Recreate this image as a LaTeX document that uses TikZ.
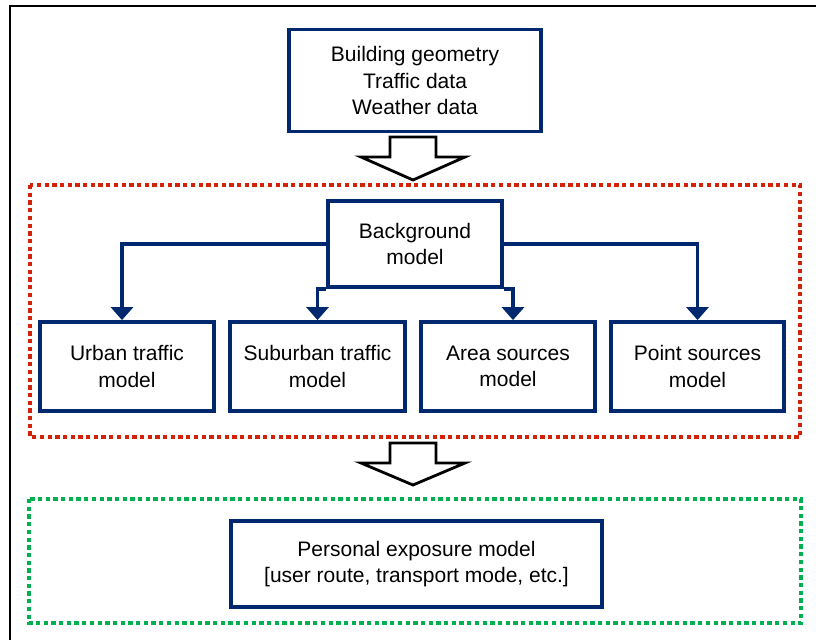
\documentclass[tikz,border=0pt]{standalone}
\usepackage{fontspec}
\setmainfont{Liberation Sans}
\usetikzlibrary{arrows.meta}
\definecolor{navy}{RGB}{0,40,110}
\definecolor{dotred}{RGB}{210,35,10}
\definecolor{dotgreen}{RGB}{0,176,80}
\tikzset{
  modelbox/.style={draw=navy, line width=3.8bp, fill=white, align=center, inner sep=2bp,
    font=\fontsize{21bp}{26.5bp}\selectfont, text=black},
  link/.style={draw=navy, line width=3.3bp, -{Triangle[width=22bp,length=13bp]}},
  dotframe/.style={line width=4bp, dash pattern=on 4.3bp off 3.4bp},
  blockarrow/.style={draw=black, line width=2.8bp, fill=white, line join=miter},
}
\begin{document}
\begin{tikzpicture}[x=1bp,y=-1bp]
\useasboundingbox (0,0) rectangle (816,640);
% outer frame
\draw[line width=2.2bp] (10,642) -- (10,6) -- (818,6);
% group frames
\draw[dotframe, draw=dotred] (30,185) rectangle (800,437);
\draw[dotframe, draw=dotgreen] (29,499) rectangle (801,623);
% input box
\node[modelbox, minimum width=252bp, minimum height=102bp] (input) at (415,80.5)
  {Building geometry\\Traffic data\\Weather data};
% block arrows
\draw[blockarrow] (390,137) -- (436,137) -- (436,157) -- (465,157) -- (413,180)
  -- (361,157) -- (390,157) -- cycle;
\draw[blockarrow] (390,443) -- (436,443) -- (436,463) -- (465,463) -- (413,485)
  -- (361,463) -- (390,463) -- cycle;
% background model
\node[modelbox, minimum width=174bp, minimum height=86bp] (bg) at (415,244)
  {Background\\model};
% source models
\node[modelbox, minimum width=174bp, minimum height=89bp] (urban) at (127,366.5)
  {Urban traffic\\model};
\node[modelbox, minimum width=175bp, minimum height=89bp] (sub) at (317.5,366.5)
  {Suburban traffic\\model};
\node[modelbox, minimum width=174bp, minimum height=89bp] (area) at (508,366.5)
  {Area sources\\model};
\node[modelbox, minimum width=173bp, minimum height=89bp] (point) at (697.5,366.5)
  {Point sources\\model};
% personal exposure
\node[modelbox, minimum width=371bp, minimum height=86bp] (pers) at (416.5,564)
  {Personal exposure model\\{[}user route, transport mode, etc.{]}};
% connectors
\draw[link] (bg.west) -| ([xshift=-5bp]urban.north);
\draw[link] (bg.south west) -| (sub.north);
\draw[link] (bg.south east) -| ([xshift=5bp]area.north);
\draw[link] (bg.east) -| (point.north);
\end{tikzpicture}
\end{document}
